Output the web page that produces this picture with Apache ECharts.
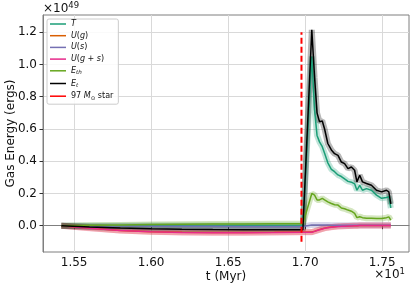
<!DOCTYPE html>
<html>
<head>
<meta charset="utf-8">
<script src="https://cdn.jsdelivr.net/npm/echarts@6/dist/echarts.min.js"></script>
<style>html,body{margin:0;padding:0;background:#fff}#c{width:415px;height:288px}</style>
</head>
<body>
<div id="c"></div>
<script>
// time in Myr (axis labels are shown in units of 10 Myr)
const times = [15.417, 15.6, 15.8, 16.0, 16.2, 16.4, 16.6, 16.8, 16.985,
  17.043, 17.061, 17.077, 17.093, 17.111, 17.126, 17.147, 17.170, 17.191, 17.213,
  17.235, 17.256, 17.278, 17.300, 17.321, 17.336, 17.354, 17.372, 17.398, 17.430,
  17.463, 17.496, 17.528, 17.543, 17.556];
// energies in units of 1e49 erg
const T = [0.0, 0.0, 0.0, 0.001, 0.001, 0.001, 0.001, 0.001, 0.001,
  1.05, 0.72, 0.56, 0.52, 0.49, 0.45, 0.39, 0.35, 0.335, 0.315,
  0.305, 0.29, 0.275, 0.27, 0.26, 0.22, 0.25, 0.22, 0.23, 0.22,
  0.19, 0.17, 0.175, 0.18, 0.11];
const Ug = [0.0, -0.014, -0.029, -0.037, -0.041, -0.042, -0.042, -0.041, -0.039,
  -0.039, -0.034, -0.029, -0.024, -0.019, -0.015, -0.011, -0.008, -0.006, -0.004,
  -0.003, -0.002, -0.001, 0.0, 0.0, 0.0, 0.001, 0.001, 0.001, 0.002,
  0.002, 0.002, 0.002, 0.002, 0.002];
const Us = [0.0, -0.001, -0.002, -0.003, -0.004, -0.004, -0.005, -0.005, -0.005,
  0.005, 0.005, 0.005, 0.005, 0.004, 0.004, 0.004, 0.003, 0.003, 0.003,
  0.003, 0.003, 0.003, 0.003, 0.003, 0.003, 0.003, 0.003, 0.003, 0.003,
  0.003, 0.003, 0.003, 0.003, 0.003];
const Ugs = [0.0, -0.015, -0.03, -0.038, -0.042, -0.043, -0.043, -0.042, -0.04,
  -0.04, -0.035, -0.03, -0.025, -0.02, -0.016, -0.012, -0.009, -0.007, -0.005,
  -0.004, -0.003, -0.002, -0.001, 0.0, 0.0, 0.001, 0.001, 0.001, 0.002,
  0.002, 0.002, 0.002, 0.002, 0.002];
const Eth = [0.0, 0.003, 0.005, 0.007, 0.009, 0.01, 0.011, 0.012, 0.012,
  0.20, 0.19, 0.16, 0.16, 0.17, 0.16, 0.148, 0.138, 0.13, 0.128,
  0.11, 0.105, 0.097, 0.09, 0.077, 0.05, 0.056, 0.05, 0.046, 0.046,
  0.045, 0.045, 0.05, 0.055, 0.035];
const Et = [0.0, -0.008, -0.014, -0.019, -0.022, -0.024, -0.025, -0.025, -0.025,
  1.215, 0.92, 0.70, 0.645, 0.65, 0.60, 0.51, 0.47, 0.447, 0.436,
  0.395, 0.385, 0.354, 0.364, 0.344, 0.272, 0.313, 0.272, 0.262, 0.251,
  0.22, 0.21, 0.22, 0.21, 0.135];
const starTime = [16.976, 16.976];
const starRange = [-0.1, 1.2];
const xTicks = [15.5, 16.0, 16.5, 17.0, 17.5];
const yTicks = [0.0, 0.2, 0.4, 0.6, 0.8, 1.0, 1.2];
const seriesNames = ['T', 'U(g)', 'U(s)', 'U(g+s)', 'E_th', 'E_t'];
const seriesValues = [T, Ug, Us, Ugs, Eth, Et];
const seriesColors = ['#1b9e77', '#d95f02', '#7570b3', '#e7298a', '#66a61e', '#000000'];
const starName = '97 Msun star';

const legendLabels = {
  'T': '{i|T}',
  'U(g)': '{i|U}{n|(}{i|g}{n|)}',
  'U(s)': '{i|U}{n|(}{i|s}{n|)}',
  'U(g+s)': '{i|U}{n|(}{i|g}{n| + }{i|s}{n|)}',
  'E_th': '{i|E}{sub|th}',
  'E_t': '{i|E}{sub|t}',
  '97 Msun star': '{n|97 }{i|M}{sub2|⊙}{n| star}'
};

const pairs = v => times.map((t, i) => [t, v[i]]);
const series = [];
seriesNames.forEach((n, k) => {
  series.push({
    name: n + ' halo', type: 'line', data: pairs(seriesValues[k]),
    symbol: 'none', silent: true, z: 1,
    lineStyle: {color: seriesColors[k], width: 6, opacity: 0.28}
  });
});
seriesNames.forEach((n, k) => {
  series.push({
    name: n, type: 'line', data: pairs(seriesValues[k]),
    symbol: 'none', z: 3,
    itemStyle: {color: seriesColors[k]},
    lineStyle: {color: seriesColors[k], width: 1.5}
  });
});
series.push({
  name: starName, type: 'line',
  data: starTime.map((t, i) => [t, starRange[i]]),
  symbol: 'none', z: 4,
  itemStyle: {color: '#ff0000'},
  lineStyle: {color: '#ff0000', width: 2, type: [6, 3]}
});

const font = 'DejaVu Sans';
const richCorner = {
  b: {fontFamily: font, fontSize: 12, fontWeight: 'normal', color: '#111', verticalAlign: 'bottom', lineHeight: 14},
  s: {fontFamily: font, fontSize: 8.5, fontWeight: 'normal', color: '#111', verticalAlign: 'top', lineHeight: 14}
};
const chart = echarts.init(document.getElementById('c'), null, {renderer: 'canvas'});
chart.setOption({
  animation: false,
  backgroundColor: '#fff',
  textStyle: {fontFamily: font},
  grid: {left: 43, right: 6, top: 15, bottom: 36, containLabel: false, outerBoundsMode: 'none',
    show: true, borderColor: '#7f7f7f', borderWidth: 1},
  title: [
    {text: '{b|×10}{s|49}', left: 41, top: -1, padding: [2, 2], textStyle: {fontWeight: 'normal', rich: richCorner}},
    {text: '{b|×10}{s|1}', right: 8, top: 265, padding: [2, 2], textStyle: {fontWeight: 'normal', rich: richCorner}}
  ],
  legend: {
    orient: 'vertical', left: 47, top: 19,
    data: seriesNames.concat([starName]),
    itemWidth: 16, itemHeight: 8, itemGap: 3.7,
    padding: [1, 5, 3, 3],
    backgroundColor: 'rgba(255,255,255,0.85)',
    borderColor: '#cccccc', borderWidth: 1, borderRadius: 2,
    icon: 'path://M0,4 L16,4 L16,5.5 L0,5.5 Z',
    formatter: n => legendLabels[n],
    textStyle: {fontFamily: font, fontSize: 8, color: '#111', rich: {
      i: {fontFamily: font, fontSize: 8, fontStyle: 'italic', color: '#111', lineHeight: 10},
      n: {fontFamily: font, fontSize: 8, color: '#111', lineHeight: 10},
      sub: {fontFamily: font, fontSize: 5.6, fontStyle: 'italic', color: '#111', verticalAlign: 'bottom', lineHeight: 10, padding: [3, 0, 0, 0]},
      sub2: {fontFamily: font, fontSize: 5.6, color: '#111', verticalAlign: 'bottom', lineHeight: 10, padding: [3, 0, 0, 0]}
    }}
  },
  xAxis: {
    type: 'value', min: 15.298, max: 17.674,
    name: 't (Myr)', nameLocation: 'middle', nameGap: 19, nameMoveOverlap: false,
    nameTextStyle: {fontFamily: font, fontSize: 12, color: '#111'},
    axisLine: {show: true, lineStyle: {color: '#7f7f7f'}},
    axisTick: {show: true, length: 3.5, inside: false, customValues: xTicks, lineStyle: {color: '#333'}},
    axisLabel: {customValues: xTicks, margin: 5, fontFamily: font, fontSize: 12, color: '#111',
      formatter: v => (v / 10).toFixed(2)},
    splitLine: {show: true, lineStyle: {color: '#d9d9d9', width: 1}}
  },
  yAxis: {
    type: 'value', min: -0.163, max: 1.307,
    name: 'Gas Energy (ergs)', nameLocation: 'middle', nameGap: 26, nameMoveOverlap: false,
    nameTextStyle: {fontFamily: font, fontSize: 12, color: '#111'},
    axisLine: {show: true, lineStyle: {color: '#7f7f7f'}},
    axisTick: {show: true, length: 3.5, inside: false, customValues: yTicks, lineStyle: {color: '#333'}},
    axisLabel: {customValues: yTicks, margin: 6, fontFamily: font, fontSize: 12, color: '#111',
      formatter: v => v.toFixed(1)},
    splitLine: {show: true, lineStyle: {color: '#d9d9d9', width: 1}}
  },
  series: series
});
</script>
</body>
</html>
